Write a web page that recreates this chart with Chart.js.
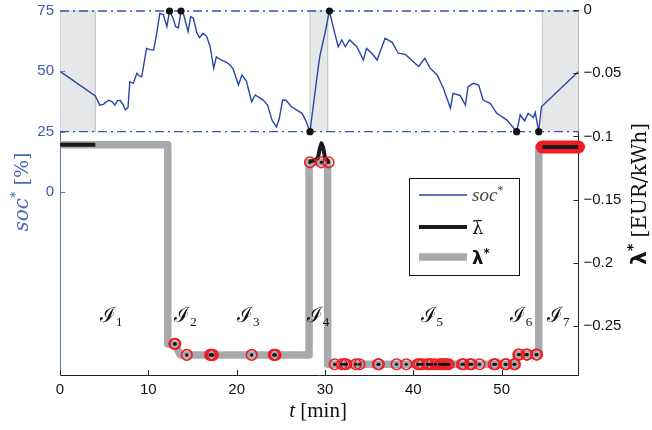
<!DOCTYPE html>
<html><head><meta charset="utf-8">
<script src="https://cdn.jsdelivr.net/npm/chart.js@4.4.0/dist/chart.umd.min.js"></script>
<style>html,body{margin:0;padding:0;background:#fff}#wrap{width:652px;height:430px;position:relative}</style>
</head><body><div id="wrap"><canvas id="c"></canvas></div>
<script>
// ---- data ----
const socT=[0,4.0,4.5,4.9,5.5,5.9,6.2,6.5,6.8,7.1,7.4,7.7,7.9,8.3,8.7,9.0,9.25,9.8,10.2,10.6,10.95,11.3,11.7,12.1,12.4,12.8,13.1,13.4,13.7,14.0,14.5,14.8,15.1,15.5,15.8,16.2,16.6,17.0,17.4,17.7,18.3,18.8,19.25,19.6,20.2,20.6,21.1,21.7,22.1,23.0,23.5,24.0,24.5,24.8,25.2,25.6,26.2,27.4,27.8,28.3,29.05,29.4,30.0,30.5,31.1,31.5,31.9,32.3,32.8,33.6,34.35,34.7,35.3,35.9,36.8,37.6,38.3,39.1,40.0,40.6,41.3,41.9,42.7,43.4,44.2,44.5,45.3,45.9,46.2,46.8,47.4,47.9,48.7,49.45,50.6,51.7,52.1,52.6,53.0,53.6,53.8,54.2,54.5,58.7];
const socV=[50,39.8,36,36.3,38,37.5,36,37.8,38,36.5,34,35,45.7,45,49.2,48,47.8,59.5,59,58.8,65.8,74,73.5,68.5,75,72,68.5,68,75,73.5,66.4,72.7,72,65.8,64,65.8,64.5,60.2,51.3,56,54.6,53.8,52.6,51,44.3,48.5,46,37.4,40.2,38.1,36,29.8,27,30,38.1,38,35.3,32.6,29.8,25,46.4,56,65.8,75,65.8,60.2,63,60.2,63,60.2,54.7,59.5,57.5,54.7,63.7,62,57.5,57,54,52,55.4,51.3,48.5,43,34.7,40.9,40,36,43.6,45,44.3,38.1,36.7,32.6,29.8,25,31.9,29.5,32.6,30.8,33,25,35.3,49.9];
const socMarkT=[12.4,13.7,28.3,30.5,51.7,54.2];
const socMarkV=[75,75,25,75,25,25];
const socLimits=[25,75];
const boxStart=[0,28.3,54.6];
const boxEnd=[4.0,30.3,58.7];
const lamT=[0,12.2,12.2,13.0,13.6,28.2,28.2,30.3,30.3,51.5,51.7,54.2,54.2,58.7];
const lamV=[-0.1066,-0.1066,-0.2642,-0.2642,-0.2729,-0.2729,-0.1205,-0.1205,-0.2803,-0.2803,-0.2726,-0.2726,-0.1084,-0.1084];
const barT=[0,4.0,16,28.2,28.8,29.2,29.4,29.6,29.8,30.0,30.4,42,54.6,58.7];
const barV=[-0.1066,-0.1066,null,-0.120,-0.119,-0.117,-0.110,-0.1055,-0.109,-0.117,-0.120,null,-0.1084,-0.1084];
const markT=[12.95,13.05,14.35,17.0,17.1,17.2,17.3,21.7,24.2,24.3,24.4,28.3,29.6,30.4,31.1,31.9,32.2,32.4,33.5,33.9,36.0,36.1,38.1,39.2,40.5,40.7,41.0,41.6,41.8,42.1,42.5,43.0,43.2,43.4,43.6,43.8,44.0,45.5,45.7,46.4,46.6,47.5,49.1,49.3,50.4,50.5,51.4,51.5,51.9,52.0,52.8,52.9,53.9,54.0];
const markV=[-0.2642,-0.2642,-0.2729,-0.2729,-0.2729,-0.2729,-0.2729,-0.2729,-0.2729,-0.2729,-0.2729,-0.1205,-0.1205,-0.1205,-0.2803,-0.2803,-0.2803,-0.2803,-0.2803,-0.2803,-0.2803,-0.2803,-0.2803,-0.2803,-0.2803,-0.2803,-0.2803,-0.2803,-0.2803,-0.2803,-0.2803,-0.2803,-0.2803,-0.2803,-0.2803,-0.2803,-0.2803,-0.2803,-0.2803,-0.2803,-0.2803,-0.2803,-0.2803,-0.2803,-0.2803,-0.2803,-0.2803,-0.2803,-0.2726,-0.2726,-0.2726,-0.2726,-0.2726,-0.2726];
const redT=[54.6,58.7];
const redV=[-0.1084,-0.1084];
const xTicks=[0,10,20,30,40,50];
const socTicks=[0,25,50,75];
const lamTicks=[0,-0.05,-0.1,-0.15,-0.2,-0.25];
const intervalNames=['1','2','3','4','5','6','7'];
const intervalT=[5.8,14.2,21.3,29.2,42.1,52.2,56.4];
const intervalLam=-0.2468;
const tMax=58.7;

// ---- helpers ----
const pts=(T,V)=>T.map((t,i)=>({x:t,y:V[i]}));
const BLUE='#2846a6';
const datasets=[];
boxStart.forEach((s,i)=>{
  const e=boxEnd[i];
  datasets.push({type:'line',label:'box'+i,yAxisID:'ySoc',data:[{x:s,y:socLimits[0]},{x:s,y:socLimits[1]},{x:e,y:socLimits[1]},{x:e,y:socLimits[0]}],
    fill:{value:socLimits[0]},backgroundColor:'#e6e7e8',borderColor:'#c6c8ca',borderWidth:1,pointRadius:0,order:20});
});
socLimits.forEach((L,i)=>{
  datasets.push({type:'line',label:'lim'+i,yAxisID:'ySoc',data:[{x:0,y:L},{x:tMax,y:L}],borderColor:'#3556b0',borderWidth:1.3,borderDash:[9,4,2,4],pointRadius:0,order:15});
});
datasets.push({type:'line',label:'λ*',yAxisID:'yLam',data:pts(lamT,lamV),borderColor:'#a7a9ac',borderWidth:7.5,borderJoinStyle:'round',pointRadius:0,order:12});
datasets.push({type:'line',label:'red',yAxisID:'yLam',data:pts(redT,redV),borderColor:'#ee1c24',borderWidth:13,borderCapStyle:'round',pointRadius:0,order:11,clip:false});
datasets.push({type:'line',label:'λ̄',yAxisID:'yLam',data:pts(barT,barV),borderColor:'#1a1a1a',borderWidth:4,borderJoinStyle:'round',spanGaps:false,pointRadius:0,order:10});
datasets.push({type:'scatter',label:'marks',yAxisID:'yLam',data:pts(markT,markV),pointRadius:5.3,pointBorderWidth:1.6,pointBorderColor:'#ee1c24',pointBackgroundColor:'rgba(0,0,0,0)',showLine:false,order:9});
datasets.push({type:'scatter',label:'markdots',yAxisID:'yLam',data:pts(markT,markV),pointRadius:1.6,pointBorderWidth:0,pointBackgroundColor:'#111',showLine:false,order:8});
datasets.push({type:'line',label:'soc*',yAxisID:'ySoc',data:pts(socT,socV),borderColor:BLUE,borderWidth:1.4,pointRadius:0,order:5});
datasets.push({type:'scatter',label:'socmarks',yAxisID:'ySoc',data:pts(socMarkT,socMarkV),pointRadius:3.6,pointBorderWidth:0,pointBackgroundColor:'#111',showLine:false,order:4,clip:false});

function rich(ctx,parts,x,y,align){
  let w=0;
  parts.forEach(p=>{ctx.font=p.f;p.w=ctx.measureText(p.t).width;w+=p.w;});
  let cx=align==='center'?x-w/2:x;
  parts.forEach(p=>{ctx.font=p.f;ctx.fillStyle=p.c||ctx.fillStyle;ctx.fillText(p.t,cx,y+(p.dy||0));cx+=p.w;});
}

const deco={id:'deco',afterDraw(chart){
  const ctx=chart.ctx,xs=chart.scales.x,yl=chart.scales.ySoc,yr=chart.scales.yLam,a=chart.chartArea;
  ctx.save();
  ctx.lineWidth=1;
  ctx.strokeStyle='#222';
  xTicks.forEach(t=>{const p=Math.round(xs.getPixelForValue(t))+0.5;ctx.beginPath();ctx.moveTo(p,a.bottom);ctx.lineTo(p,a.bottom-5);ctx.stroke();});
  lamTicks.forEach(v=>{const p=Math.round(yr.getPixelForValue(v))+0.5;ctx.beginPath();ctx.moveTo(a.right,p);ctx.lineTo(a.right-5,p);ctx.stroke();});
  ctx.strokeStyle='#5b74c1';
  socTicks.forEach(v=>{const p=Math.round(yl.getPixelForValue(v))+0.5;ctx.beginPath();ctx.moveTo(a.left,p);ctx.lineTo(a.left+5,p);ctx.stroke();});
  ctx.textBaseline='alphabetic';ctx.textAlign='left';
  // interval labels
  ctx.fillStyle='#111';
  const iy=yr.getPixelForValue(intervalLam);
  intervalNames.forEach((n,i)=>{
    const ix=xs.getPixelForValue(intervalT[i]);
    rich(ctx,[{t:'ℐ',f:'21px "DejaVu Serif"'},{t:n,f:'13px "Liberation Serif"',dy:4}],ix,iy,'center');
  });
  // x title
  ctx.fillStyle='#111';
  rich(ctx,[{t:'t',f:'italic 21px "Liberation Serif"'},{t:' [min]',f:'21px "Liberation Serif"'}],318,417,'center');
  // left title
  ctx.save();ctx.translate(28,192);ctx.rotate(-Math.PI/2);
  ctx.fillStyle='#4a68b9';
  rich(ctx,[{t:'soc',f:'italic 20px "DejaVu Serif"'},{t:'*',f:'13px "DejaVu Serif"',dy:-8},{t:' [%]',f:'19px "DejaVu Serif"'}],0,0,'center');
  ctx.restore();
  // right title
  ctx.save();ctx.translate(646,194);ctx.rotate(-Math.PI/2);
  ctx.fillStyle='#111';
  rich(ctx,[{t:'λ',f:'bold 22px "DejaVu Sans"'},{t:'*',f:'bold 14px "DejaVu Sans"',dy:-9},{t:' [EUR/kWh]',f:'20px "DejaVu Serif"'}],0,0,'center');
  ctx.restore();
  // legend
  const lx=409.5,ly=178.5,lw=110,lh=97;
  ctx.fillStyle='#fff';ctx.fillRect(lx,ly,lw,lh);
  ctx.strokeStyle='#111';ctx.lineWidth=1;ctx.strokeRect(lx,ly,lw,lh);
  ctx.lineCap='butt';
  ctx.strokeStyle=BLUE;ctx.lineWidth=1.3;ctx.beginPath();ctx.moveTo(419,195);ctx.lineTo(467,195);ctx.stroke();
  ctx.strokeStyle='#1a1a1a';ctx.lineWidth=4;ctx.beginPath();ctx.moveTo(419,227);ctx.lineTo(467,227);ctx.stroke();
  ctx.strokeStyle='#a7a9ac';ctx.lineWidth=7.5;ctx.beginPath();ctx.moveTo(419,257);ctx.lineTo(467,257);ctx.stroke();
  ctx.fillStyle='#444';
  rich(ctx,[{t:'soc',f:'italic 19px "Liberation Serif"'},{t:'*',f:'12px "Liberation Serif"',dy:-7}],472,201,'left');
  ctx.fillStyle='#111';
  rich(ctx,[{t:'λ̄',f:'18px "DejaVu Serif"'}],472,234,'left');
  rich(ctx,[{t:'λ',f:'bold 18px "DejaVu Sans"'},{t:'*',f:'bold 12px "DejaVu Sans"',dy:-7}],472,264,'left');
  ctx.restore();
}};

const noPad=s=>{s.paddingTop=0;s.paddingBottom=0;};
new Chart(document.getElementById('c'),{
  data:{datasets},
  options:{
    responsive:true,maintainAspectRatio:false,animation:false,
    layout:{padding:{top:10,left:0,right:0,bottom:0}},
    plugins:{legend:{display:false},tooltip:{enabled:false}},
    scales:{
      x:{type:'linear',position:'bottom',min:0,max:tMax,
        afterBuildTicks:s=>{s.ticks=xTicks.map(v=>({value:v}));},
        afterFit:s=>{s.height=55;s.paddingLeft=0;s.paddingRight=0;},
        grid:{display:false,drawTicks:false},border:{display:true,color:'#222',width:1},
        ticks:{color:'#111',font:{family:'"Liberation Sans"',size:15},padding:6,maxRotation:0,autoSkip:false}},
      ySoc:{type:'linear',position:'left',min:-75.83,max:75.41,
        afterBuildTicks:s=>{s.ticks=socTicks.map(v=>({value:v}));},
        afterFit:s=>{s.width=60;noPad(s);},
        grid:{display:false,drawTicks:false},border:{display:true,color:'#5b74c1',width:1},
        ticks:{color:'#3b5bb3',font:{family:'"Liberation Sans"',size:15},padding:6,autoSkip:false}},
      yLam:{type:'linear',position:'right',min:-0.2888,max:0,
        afterBuildTicks:s=>{s.ticks=lamTicks.map(v=>({value:v}));},
        afterFit:s=>{s.width=73.5;noPad(s);},
        grid:{display:false,drawTicks:false},border:{display:true,color:'#222',width:1},
        ticks:{color:'#111',font:{family:'"Liberation Sans"',size:15},padding:5,autoSkip:false,
          callback:v=>String(v).replace('-','\u2212')}}
    }
  },
  plugins:[deco]
});
</script></body></html>
